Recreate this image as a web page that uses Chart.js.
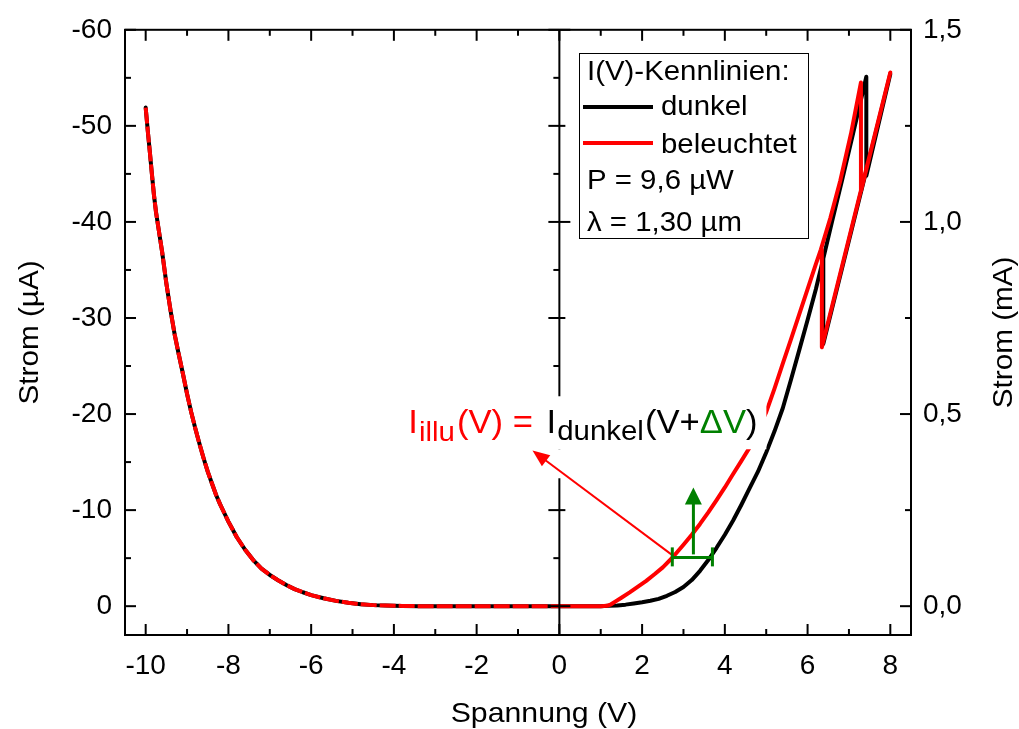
<!DOCTYPE html>
<html>
<head>
<meta charset="utf-8">
<script src="https://cdn.jsdelivr.net/npm/chart.js@4"></script>
<style>
html, body { margin: 0; padding: 0; background: #fff; }
#wrap { width: 1019px; height: 729px; }
</style>
</head>
<body>
<div id="wrap"><canvas id="ivchart"></canvas></div>
<script>
// reverse branch, current in µA (left axis)
const voltsRev = [-10, -9.95, -9.9, -9.85, -9.8, -9.75, -9.7, -9.6, -9.5, -9.4, -9.3, -9.2, -9.1, -9.0, -8.9, -8.8, -8.7, -8.6, -8.5, -8.4, -8.3, -8.2, -8.1, -8.0, -7.8, -7.6, -7.4, -7.2, -7.0, -6.8, -6.6, -6.4, -6.2, -6.0, -5.7, -5.4, -5.1, -4.8, -4.5, -4.2, -3.8, -3.4, -3.0, -2.0, -1.0, 0];
const darkRevUA = [-51.9, -49.5, -47.3, -45.0, -42.8, -41.0, -39.6, -36.8, -33.6, -30.8, -28.3, -26.2, -24.2, -22.1, -20.2, -18.5, -16.9, -15.4, -14.0, -12.8, -11.6, -10.6, -9.7, -8.8, -7.2, -5.9, -4.8, -3.9, -3.25, -2.7, -2.2, -1.78, -1.45, -1.15, -0.82, -0.55, -0.35, -0.2, -0.11, -0.06, -0.03, 0, 0, 0, 0, 0];
const illuRevUA = [-51.9, -49.5, -47.3, -45.0, -42.8, -41.0, -39.6, -36.8, -33.6, -30.8, -28.3, -26.2, -24.2, -22.1, -20.2, -18.5, -16.9, -15.4, -14.0, -12.8, -11.6, -10.6, -9.7, -8.8, -7.2, -5.9, -4.8, -3.9, -3.25, -2.7, -2.2, -1.78, -1.45, -1.15, -0.82, -0.55, -0.35, -0.2, -0.11, -0.06, -0.03, 0, 0, 0, 0, 0];

// forward branch, current in mA (right axis) - sweep up, jump, back down
const voltsDarkFwd = [0, 1.0, 1.2, 1.4, 1.6, 1.8, 2.0, 2.2, 2.4, 2.6, 2.8, 3.0, 3.2, 3.4, 3.6, 3.8, 4.0, 4.2, 4.4, 4.6, 4.8, 5.0, 5.2, 5.4, 5.6, 5.8, 6.0, 6.2, 6.38, 6.6, 6.83, 7.1, 7.42, 7.42, 8.0, 6.38, 6.38];
const darkFwdMA = [0, 0, 0.001, 0.002, 0.004, 0.007, 0.01, 0.014, 0.019, 0.027, 0.037, 0.05, 0.068, 0.092, 0.12, 0.152, 0.186, 0.223, 0.264, 0.307, 0.35, 0.40, 0.455, 0.515, 0.59, 0.667, 0.745, 0.825, 0.905, 1.005, 1.107, 1.23, 1.378, 1.12, 1.385, 0.683, 0.905];
const voltsIlluFwd = [0, 1.0, 1.15, 1.25, 1.35, 1.5, 1.7, 1.9, 2.1, 2.3, 2.5, 2.73, 3.0, 3.2, 3.4, 3.6, 3.8, 4.0, 4.2, 4.4, 4.6, 4.8, 5.0, 5.2, 5.4, 5.6, 5.8, 6.0, 6.2, 6.32, 6.55, 6.79, 7.05, 7.29, 7.29, 8.0, 6.345, 6.345];
const illuFwdMA = [0, 0, 0.001, 0.005, 0.012, 0.022, 0.036, 0.051, 0.066, 0.083, 0.101, 0.126, 0.16, 0.186, 0.214, 0.244, 0.276, 0.309, 0.344, 0.378, 0.413, 0.458, 0.505, 0.566, 0.631, 0.695, 0.76, 0.825, 0.89, 0.928, 1.01, 1.107, 1.23, 1.363, 1.08, 1.389, 0.674, 0.928];

const xTicks = [-10, -8, -6, -4, -2, 0, 2, 4, 6, 8];
const xMinorTicks = [-9, -7, -5, -3, -1, 1, 3, 5, 7];
const leftTicks = [-60, -50, -40, -30, -20, -10, 0];
const leftMinorTicks = [-55, -45, -35, -25, -15, -5];
const rightTicks = [0, 0.5, 1.0, 1.5];
const rightMinorTicks = [0.25, 0.75, 1.25];

const FONT = '"Liberation Sans", Arial, sans-serif';

function pts(xs, ys) {
    return xs.map((v, i) => ({x: v, y: ys[i]}));
}

function seg(ctx, x1, y1, x2, y2) {
    ctx.beginPath();
    ctx.moveTo(x1, y1);
    ctx.lineTo(x2, y2);
    ctx.stroke();
}

function txt(ctx, s, x, y, size, color, sx) {
    ctx.save();
    ctx.font = size + 'px ' + FONT;
    ctx.fillStyle = color;
    ctx.textBaseline = 'alphabetic';
    ctx.translate(x, y);
    ctx.scale(sx || 1, 1);
    ctx.fillText(s, 0, 0);
    let w = ctx.measureText(s).width * (sx || 1);
    ctx.restore();
    return w;
}

function arrowHead(ctx, x1, y1, x2, y2, len, half) {
    let a = Math.atan2(y2 - y1, x2 - x1);
    ctx.beginPath();
    ctx.moveTo(x2, y2);
    ctx.lineTo(x2 - len * Math.cos(a) + half * Math.sin(a), y2 - len * Math.sin(a) - half * Math.cos(a));
    ctx.lineTo(x2 - len * Math.cos(a) - half * Math.sin(a), y2 - len * Math.sin(a) + half * Math.cos(a));
    ctx.closePath();
    ctx.fill();
}

const decorations = {
    id: 'decorations',
    afterDraw(chart) {
        const ctx = chart.ctx;
        const a = chart.chartArea;
        const x = chart.scales.x, yL = chart.scales.yL, yR = chart.scales.yR;
        const MAJ = 11, MIN = 6;
        ctx.save();
        ctx.strokeStyle = '#000';
        ctx.lineWidth = 2;

        // frame
        ctx.strokeRect(a.left, a.top, a.right - a.left, a.bottom - a.top);

        // x ticks, bottom and top, pointing inward
        xTicks.concat(xMinorTicks).forEach(v => {
            let px = x.getPixelForValue(v);
            let l = xTicks.includes(v) ? MAJ : MIN;
            seg(ctx, px, a.bottom, px, a.bottom - l);
            seg(ctx, px, a.top, px, a.top + l);
        });
        // left axis ticks
        leftTicks.concat(leftMinorTicks).forEach(v => {
            let py = yL.getPixelForValue(v);
            let l = leftTicks.includes(v) ? MAJ : MIN;
            seg(ctx, a.left, py, a.left + l, py);
        });
        // right axis ticks
        rightTicks.concat(rightMinorTicks).forEach(v => {
            let py = yR.getPixelForValue(v);
            let l = rightTicks.includes(v) ? MAJ : MIN;
            seg(ctx, a.right, py, a.right - l, py);
        });

        // middle axis at V = 0
        let x0 = x.getPixelForValue(0);
        seg(ctx, x0, a.top, x0, a.bottom);
        leftTicks.concat(leftMinorTicks).forEach(v => {
            let py = yL.getPixelForValue(v);
            let l = leftTicks.includes(v) ? MAJ : MIN;
            seg(ctx, x0, py, x0 - l, py);
        });
        rightTicks.concat(rightMinorTicks).forEach(v => {
            let py = yR.getPixelForValue(v);
            let l = rightTicks.includes(v) ? MAJ : MIN;
            seg(ctx, x0, py, x0 + l, py);
        });

        // white mask behind the formula
        let tx = x.getPixelForValue(-3.65);
        let ty = yR.getPixelForValue(0.45);
        ctx.fillStyle = '#fff';
        ctx.fillRect(tx - 6, ty - 37, 364, 53);
        ctx.fillRect(x0 - 7, ty + 16, 14, 29);

        // formula
        let cx = tx;
        const big = 33, small = 28, sx = 1.05;
        cx += txt(ctx, 'I', cx, ty, big, '#ff0000', sx) + 1;
        cx += txt(ctx, 'illu', cx, ty + 8, small, '#ff0000', sx) + 2;
        cx += txt(ctx, '(V) = ', cx, ty, big, '#ff0000', sx) + 4;
        cx += txt(ctx, 'I', cx, ty, big, '#000', sx) + 1;
        cx += txt(ctx, 'dunkel', cx, ty + 7, small, '#000', sx) + 1;
        cx += txt(ctx, '(V+', cx, ty, big, '#000', sx);
        cx += txt(ctx, '\u0394V', cx, ty, big, '#008000', sx);
        txt(ctx, ')', cx, ty, big, '#000', sx);

        // red arrow from the curve to the formula
        let ax1 = x.getPixelForValue(2.73), ay1 = yR.getPixelForValue(0.133);
        let ax2 = x.getPixelForValue(-0.65), ay2 = yR.getPixelForValue(0.405);
        ctx.strokeStyle = '#ff0000';
        ctx.fillStyle = '#ff0000';
        ctx.lineWidth = 2;
        let ang = Math.atan2(ay2 - ay1, ax2 - ax1);
        seg(ctx, ax1, ay1, ax2 - 12 * Math.cos(ang), ay2 - 12 * Math.sin(ang));
        arrowHead(ctx, ax1, ay1, ax2, ay2, 17, 7);

        // green delta-V marker
        let gy = yR.getPixelForValue(0.127);
        let gx1 = x.getPixelForValue(2.73), gx2 = x.getPixelForValue(3.7);
        let gvx = x.getPixelForValue(3.24);
        ctx.strokeStyle = '#008000';
        ctx.fillStyle = '#008000';
        ctx.lineWidth = 3;
        seg(ctx, gx1, gy, gx2, gy);
        seg(ctx, gx1, gy - 10, gx1, gy + 9);
        seg(ctx, gx2, gy - 10, gx2, gy + 9);
        let gTop = yR.getPixelForValue(0.309);
        seg(ctx, gvx, gy - 3, gvx, gTop + 12);
        arrowHead(ctx, gvx, gy, gvx, gTop, 17, 8.5);

        // legend box
        ctx.fillStyle = '#fff';
        ctx.fillRect(579.5, 53.5, 229, 185);
        ctx.strokeStyle = '#000';
        ctx.lineWidth = 1;
        ctx.strokeRect(579.5, 53.5, 229, 185);
        const ls = 28, lsx = 1.05;
        txt(ctx, 'I(V)-Kennlinien:', 587, 80, ls, '#000', lsx);
        ctx.lineWidth = 4;
        ctx.strokeStyle = '#000';
        seg(ctx, 583, 107, 653, 107);
        txt(ctx, 'dunkel', 661, 115, ls, '#000', lsx);
        ctx.strokeStyle = '#ff0000';
        seg(ctx, 583, 143, 653, 143);
        txt(ctx, 'beleuchtet', 661, 153, ls, '#000', lsx);
        txt(ctx, 'P = 9,6 \u00b5W', 587, 189, ls, '#000', lsx);
        txt(ctx, '\u03bb = 1,30 \u00b5m', 587, 231, ls, '#000', lsx);

        // axis titles
        ctx.fillStyle = '#000';
        ctx.font = '28px ' + FONT;
        ctx.textAlign = 'center';
        ctx.textBaseline = 'alphabetic';
        let midY = (a.top + a.bottom) / 2;
        ctx.save();
        ctx.translate(38, midY);
        ctx.rotate(-Math.PI / 2);
        ctx.scale(1.06, 1);
        ctx.fillText('Strom (\u00b5A)', 0, 0);
        ctx.restore();
        ctx.save();
        ctx.translate(1012, midY);
        ctx.rotate(-Math.PI / 2);
        ctx.scale(1.06, 1);
        ctx.fillText('Strom (mA)', 0, 0);
        ctx.restore();
        ctx.save();
        ctx.translate(544, 722);
        ctx.scale(1.08, 1);
        ctx.fillText('Spannung (V)', 0, 0);
        ctx.restore();

        ctx.restore();
    }
};

const tickFont = {family: FONT, size: 28};

new Chart(document.getElementById('ivchart').getContext('2d'), {
    type: 'scatter',
    data: {
        datasets: [
            {label: 'beleuchtet', data: pts(voltsRev, illuRevUA), yAxisID: 'yL', showLine: true,
             borderColor: '#ff0000', borderWidth: 4, borderDash: [16, 3], pointRadius: 0, tension: 0},
            {label: 'beleuchtet fwd', data: pts(voltsIlluFwd, illuFwdMA), yAxisID: 'yR', showLine: true,
             borderColor: '#ff0000', borderWidth: 4, borderCapStyle: 'round', borderJoinStyle: 'round',
             pointRadius: 0, tension: 0},
            {label: 'dunkel', data: pts(voltsRev, darkRevUA), yAxisID: 'yL', showLine: true,
             borderColor: '#000', borderWidth: 4, borderCapStyle: 'round', borderJoinStyle: 'round',
             pointRadius: 0, tension: 0},
            {label: 'dunkel fwd', data: pts(voltsDarkFwd, darkFwdMA), yAxisID: 'yR', showLine: true,
             borderColor: '#000', borderWidth: 4, borderCapStyle: 'round', borderJoinStyle: 'round',
             pointRadius: 0, tension: 0}
        ]
    },
    options: {
        responsive: true,
        maintainAspectRatio: false,
        animation: {duration: 0},
        layout: {padding: {top: 29, left: 0, right: 0, bottom: 0}},
        plugins: {legend: {display: false}, tooltip: {enabled: false}},
        scales: {
            x: {
                type: 'linear', position: 'bottom', min: -10.5, max: 8.5,
                afterBuildTicks: s => { s.ticks = xTicks.map(v => ({value: v})); },
                afterFit: s => { s.height = 94; },
                grid: {display: false, drawTicks: false},
                border: {display: false},
                ticks: {font: tickFont, color: '#000', padding: 14, autoSkip: false, maxRotation: 0,
                        callback: v => String(v)}
            },
            yL: {
                type: 'linear', position: 'left', reverse: true, min: -60, max: 3,
                afterBuildTicks: s => { s.ticks = leftTicks.map(v => ({value: v})); },
                afterFit: s => { s.width = 125; },
                grid: {display: false, drawTicks: false},
                border: {display: false},
                ticks: {font: tickFont, color: '#000', padding: 13, autoSkip: false,
                        callback: v => String(v)}
            },
            yR: {
                type: 'linear', position: 'right', min: -0.075, max: 1.5,
                afterBuildTicks: s => { s.ticks = rightTicks.map(v => ({value: v})); },
                afterFit: s => { s.width = 108; },
                grid: {display: false, drawTicks: false},
                border: {display: false},
                ticks: {font: tickFont, color: '#000', padding: 12, autoSkip: false,
                        callback: v => v.toFixed(1).replace('.', ',')}
            }
        }
    },
    plugins: [decorations]
});
</script>
</body>
</html>
